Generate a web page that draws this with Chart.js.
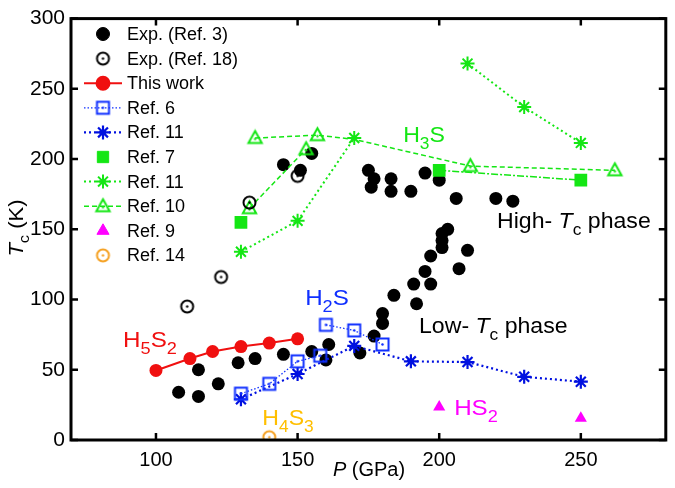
<!DOCTYPE html>
<html>
<head>
<meta charset="utf-8">
<script src="https://cdn.jsdelivr.net/npm/chart.js@4"></script>
<style>
  body { margin: 0; background: #fff; }
  #wrap { width: 675px; height: 488px; }
</style>
</head>
<body>
<div id="wrap"><canvas id="tcChart" width="675" height="488"></canvas></div>
<script>
// data: [P (GPa), Tc (K)]
const expRef3 = [[108,34],[115,31],[115,50],[122,40],[129,55],[135,58],[145,61],[155,63],[160,57],[161,68],
  [172,62],[177,74],[180,83],[180,90],[184,103],[192,97],[191,111],[197,111],[195,120],[197,131],[207,122],
  [210,135],[201,137],[201,142],[201,147],[203,150],[175,192],[177,186],[176,180],[183,186],[183,177],
  [190,177],[195,190],[200,185],[206,172],[220,172],[226,170],[145,196],[151,192],[155,204]];
const expRef18 = [[111,95],[123,116],[133,169],[150,188]];
const thisWork = [[100,49.5],[112,58],[120,63],[130,66.5],[140,69],[150,72]];
const ref6 = [[130,33],[140,40],[150,56],[158,60],[160,82],[170,78],[180,68]];
const ref11Blue = [[130,29],[150,47],[170,67],[190,56],[210,55.5],[230,45],[250,41.5]];
const ref7 = [[130,155],[200,192],[250,185]];
const ref11Green = [[130,134],[150,156],[170,215],[210,268],[230,237],[250,211.5]];
const ref10 = [[133,165],[153,207],[135,215],[157,217],[170,214],[211,195],[262,192]];
const ref9 = [[200,23.5],[250,15.5]];
const ref14 = [[140,2]];

const xTicks = [100, 150, 200, 250];
const yTicks = [0, 50, 100, 150, 200, 250, 300];

const FONT = '"Liberation Sans", Arial, sans-serif';
const RED = '#f01010', BLUE = '#1030ff', GREEN = '#14e614', MAGENTA = '#ff00ff', ORANGE = '#f5a020';

function pts(arr) { return arr.map(p => ({ x: p[0], y: p[1] })); }

// open markers with a dot in the middle
function marker(kind, color, r) {
  const s = Math.ceil(r * 2 + 5);
  const c = document.createElement('canvas');
  c.width = s; c.height = s;
  const g = c.getContext('2d');
  const m = s / 2;
  g.strokeStyle = color; g.fillStyle = color; g.lineWidth = 2;
  g.beginPath();
  if (kind === 'square') {
    g.rect(m - r, m - r, 2 * r, 2 * r);
  } else if (kind === 'circle') {
    g.arc(m, m, r, 0, Math.PI * 2);
  } else {
    g.moveTo(m, m - r); g.lineTo(m + r * 0.95, m + r * 0.7); g.lineTo(m - r * 0.95, m + r * 0.7); g.closePath();
  }
  g.stroke();
  g.beginPath();
  g.arc(m, kind === 'tri' ? m + 1 : m, 1.2, 0, Math.PI * 2);
  g.fill();
  return c;
}

const hideSeg = idx => ctx => (ctx.p0DataIndex === idx ? 'rgba(0,0,0,0)' : undefined);

const datasets = [
  { label: 'Exp. (Ref. 3)', data: pts(expRef3), pointStyle: 'circle', pointRadius: 6.5,
    backgroundColor: '#000', borderColor: '#000', pointBorderWidth: 0, showLine: false, order: 10 },
  { label: 'Exp. (Ref. 18)', data: pts(expRef18), pointStyle: marker('circle', '#000', 6), pointRadius: 7,
    backgroundColor: 'rgba(0,0,0,0)', borderColor: '#000', showLine: false },
  { label: 'This work', data: pts(thisWork), pointStyle: 'circle', pointRadius: 6.5, backgroundColor: RED,
    borderColor: RED, borderWidth: 2, pointBorderWidth: 0, showLine: true, legendLine: true },
  { label: 'Ref. 6', data: pts(ref6), pointStyle: marker('square', BLUE, 6), pointRadius: 7,
    backgroundColor: BLUE, borderColor: BLUE, borderWidth: 1.3, borderDash: [1.5, 2], showLine: true,
    legendLine: true, segment: { borderColor: hideSeg(3) } },
  { label: 'Ref. 11', data: pts(ref11Blue), pointStyle: 'star', pointRadius: 7, backgroundColor: BLUE,
    borderColor: '#0010e0', borderWidth: 2.2, pointBorderWidth: 2.2, borderDash: [2, 3], showLine: true, legendLine: true },
  { label: 'Ref. 7', data: pts(ref7), pointStyle: 'rect', pointRadius: 9, backgroundColor: GREEN,
    borderColor: GREEN, borderWidth: 1.5, pointBorderWidth: 0, borderDash: [7, 2, 2, 2], showLine: true,
    segment: { borderColor: hideSeg(0) } },
  { label: 'Ref. 11', data: pts(ref11Green), pointStyle: 'star', pointRadius: 7, backgroundColor: GREEN,
    borderColor: GREEN, borderWidth: 2, pointBorderWidth: 2, borderDash: [2, 3], showLine: true,
    legendLine: true, segment: { borderColor: hideSeg(2) } },
  { label: 'Ref. 10', data: pts(ref10), pointStyle: marker('tri', GREEN, 7), pointRadius: [7, 7, 7, 7, 0, 7, 7],
    backgroundColor: GREEN, borderColor: GREEN, borderWidth: 1.5, borderDash: [5, 3], showLine: true,
    legendLine: true, segment: { borderColor: hideSeg(1) } },
  { label: 'Ref. 9', data: pts(ref9), pointStyle: 'triangle', pointRadius: 7, backgroundColor: MAGENTA,
    borderColor: MAGENTA, pointBorderWidth: 0, showLine: false },
  { label: 'Ref. 14', data: pts(ref14), pointStyle: marker('circle', ORANGE, 6), pointRadius: 7,
    backgroundColor: ORANGE, borderColor: ORANGE, showLine: false }
];

// text with italic / subscript pieces, optionally stretched sideways
function rich(ctx, parts, x, y, size, color, align, hs) {
  hs = hs || 1;
  ctx.save();
  ctx.fillStyle = color;
  ctx.textBaseline = 'alphabetic';
  ctx.textAlign = 'left';
  const fontOf = p => (p.it ? 'italic ' : '') + (p.sub ? size * 0.75 : size) + 'px ' + FONT;
  let w = 0;
  parts.forEach(p => { ctx.font = fontOf(p); w += ctx.measureText(p.t).width; });
  ctx.translate(x, y);
  ctx.scale(hs, 1);
  let cx = align === 'center' ? -w / 2 : 0;
  parts.forEach(p => {
    ctx.font = fontOf(p);
    ctx.fillText(p.t, cx, p.sub ? size * 0.3 : 0);
    cx += ctx.measureText(p.t).width;
  });
  ctx.restore();
}

const decorations = {
  id: 'decorations',
  afterDraw(chart) {
    const ctx = chart.ctx;
    const a = chart.chartArea;
    const xs = chart.scales.x, ys = chart.scales.y;
    ctx.save();
    // frame
    ctx.strokeStyle = '#000';
    ctx.lineWidth = 3;
    ctx.strokeRect(a.left, a.top, a.right - a.left, a.bottom - a.top);
    // inward ticks on all sides
    ctx.lineWidth = 2.5;
    ctx.beginPath();
    xTicks.forEach(v => {
      const px = xs.getPixelForValue(v);
      ctx.moveTo(px, a.bottom); ctx.lineTo(px, a.bottom - 7);
      ctx.moveTo(px, a.top); ctx.lineTo(px, a.top + 7);
    });
    yTicks.forEach(v => {
      const py = ys.getPixelForValue(v);
      ctx.moveTo(a.left, py); ctx.lineTo(a.left + 7, py);
      ctx.moveTo(a.right, py); ctx.lineTo(a.right - 7, py);
    });
    ctx.stroke();
    ctx.restore();

    // axis titles
    rich(ctx, [{ t: 'P', it: true }, { t: ' (GPa)' }], 369, 476, 20, '#000', 'center');
    ctx.save();
    ctx.translate(23, 228);
    ctx.rotate(-Math.PI / 2);
    rich(ctx, [{ t: 'T', it: true }, { t: 'c', sub: true }, { t: ' (K)' }], 0, 0, 20, '#000', 'center', 1.1);
    ctx.restore();

    // annotations
    rich(ctx, [{ t: 'H' }, { t: '5', sub: true }, { t: 'S' }, { t: '2', sub: true }], 150, 347, 22, RED, 'center', 1.1);
    rich(ctx, [{ t: 'H' }, { t: '2', sub: true }, { t: 'S' }], 327, 305, 22, BLUE, 'center', 1.1);
    rich(ctx, [{ t: 'H' }, { t: '4', sub: true }, { t: 'S' }, { t: '3', sub: true }], 288, 425, 22, '#ffbf00', 'center', 1.05);
    rich(ctx, [{ t: 'HS' }, { t: '2', sub: true }], 476, 415, 22, MAGENTA, 'center', 1.1);
    rich(ctx, [{ t: 'H' }, { t: '3', sub: true }, { t: 'S' }], 424, 142, 22, GREEN, 'center', 1.05);
    rich(ctx, [{ t: 'High- ' }, { t: 'T', it: true }, { t: 'c', sub: true }, { t: ' phase' }], 497, 228, 22, '#000', 'left', 1.05);
    rich(ctx, [{ t: 'Low- ' }, { t: 'T', it: true }, { t: 'c', sub: true }, { t: ' phase' }], 419, 333, 22, '#000', 'left', 1.05);

    // legend
    chart.data.datasets.forEach((ds, i) => {
      const y = 34 + i * 24.6;
      ctx.save();
      if (ds.legendLine) {
        ctx.strokeStyle = ds.borderColor;
        ctx.lineWidth = ds.borderWidth;
        ctx.setLineDash(ds.borderDash || []);
        ctx.beginPath(); ctx.moveTo(84, y); ctx.lineTo(122, y); ctx.stroke();
        ctx.setLineDash([]);
      }
      ctx.fillStyle = ds.backgroundColor;
      ctx.strokeStyle = ds.borderColor;
      ctx.lineWidth = ds.pointBorderWidth !== undefined ? ds.pointBorderWidth : 1;
      let r = Array.isArray(ds.pointRadius) ? ds.pointRadius[0] : ds.pointRadius;
      if (ds.pointStyle === 'rect') r = 8;
      Chart.helpers.drawPoint(ctx, { pointStyle: ds.pointStyle, radius: r, rotation: 0,
        borderWidth: ctx.lineWidth }, 103, y);
      ctx.fillStyle = '#000';
      ctx.font = '18px ' + FONT;
      ctx.textBaseline = 'middle';
      ctx.fillText(ds.label, 127, y + 1);
      ctx.restore();
    });
  }
};

new Chart(document.getElementById('tcChart'), {
  type: 'scatter',
  data: { datasets: datasets },
  options: {
    responsive: false,
    animation: false,
    layout: { padding: { top: 12, right: 7, left: 0, bottom: 0 } },
    plugins: { legend: { display: false }, tooltip: { enabled: false } },
    scales: {
      x: {
        type: 'linear', min: 70, max: 280,
        afterBuildTicks: s => { s.ticks = xTicks.map(v => ({ value: v })); },
        afterFit: s => { s.height = 48; },
        grid: { display: false, drawTicks: false },
        border: { display: false },
        ticks: { color: '#000', padding: 8, font: { family: FONT, size: 20 } }
      },
      y: {
        type: 'linear', min: 0, max: 300,
        afterBuildTicks: s => { s.ticks = yTicks.map(v => ({ value: v })); },
        afterFit: s => { s.width = 71; },
        grid: { display: false, drawTicks: false },
        border: { display: false },
        ticks: { color: '#000', padding: 6, font: { family: FONT, size: 21 } }
      }
    }
  },
  plugins: [decorations]
});
</script>
</body>
</html>
